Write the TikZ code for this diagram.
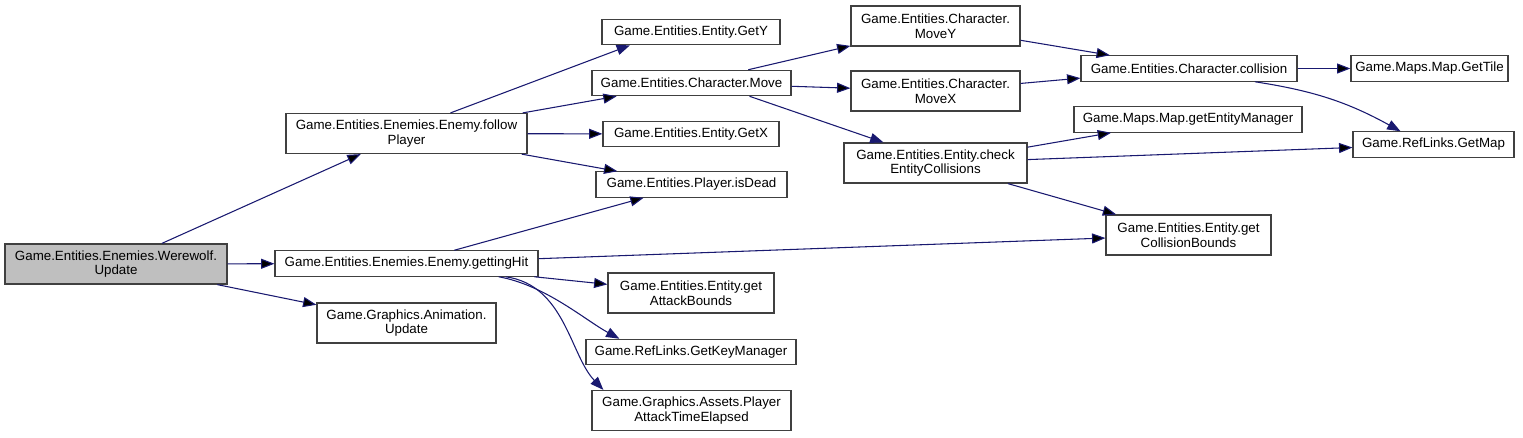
\documentclass[tikz,border=0pt]{standalone}
\usepackage{fontspec}
\setmainfont{Liberation Sans}
\usetikzlibrary{arrows.meta,calc}
\definecolor{edgeblue}{HTML}{191970}
\definecolor{boxgray}{HTML}{404040}
\definecolor{curfill}{HTML}{BFBFBF}

\begin{document}
\begin{tikzpicture}[x=0.75pt,y=-0.75pt,>={Triangle[length=10pt,width=7.5pt]},
  fn/.style={draw=boxgray,line width=0.9pt,fill=white,inner sep=0pt,minimum width=#1*0.75pt,minimum height=19pt,font=\fontsize{10}{11}\selectfont},
  fn2/.style={fn=#1,minimum height=30pt,align=center},
  call/.style={->,draw=edgeblue,line width=0.8pt}]

  \useasboundingbox (0,0) rectangle (1523,437);

  \node[fn2=222,fill=curfill] (ww) at (116,264) {Game.Entities.Enemies.Werewolf.\\Update};

  \node[fn2=241] (fp) at (406.5,133.5) {Game.Entities.Enemies.Enemy.follow\\Player};
  \node[fn=263] (gh) at (406.5,263.5) {Game.Entities.Enemies.Enemy.gettingHit};
  \node[fn2=179] (anim) at (406.5,323) {Game.Graphics.Animation.\\Update};

  \node[fn=178] (gety) at (691,32) {Game.Entities.Entity.GetY};
  \node[fn=199] (move) at (691.5,83) {Game.Entities.Character.Move};
  \node[fn=176] (getx) at (691,134) {Game.Entities.Entity.GetX};
  \node[fn=191] (isdead) at (691.5,184.5) {Game.Entities.Player.isDead};
  \node[fn2=166] (gab) at (691,293) {Game.Entities.Entity.get\\AttackBounds};
  \node[fn=210] (gkm) at (691,352) {Game.RefLinks.GetKeyManager};
  \node[fn2=199] (pate) at (691.5,410.5) {Game.Graphics.Assets.Player\\AttackTimeElapsed};

  \node[fn2=169] (movey) at (935.5,26) {Game.Entities.Character.\\MoveY};
  \node[fn2=169] (movex) at (935.5,91) {Game.Entities.Character.\\MoveX};
  \node[fn2=183] (check) at (935.5,163) {Game.Entities.Entity.check\\EntityCollisions};

  \node[fn=216] (coll) at (1189,68.5) {Game.Entities.Character.collision};
  \node[fn=228] (gem) at (1188,119.5) {Game.Maps.Map.getEntityManager};
  \node[fn2=165] (gcb) at (1188.5,235) {Game.Entities.Entity.get\\CollisionBounds};

  \node[fn=157] (gettile) at (1429.5,68.5) {Game.Maps.Map.GetTile};
  \node[fn=161] (getmap) at (1433.5,144.5) {Game.RefLinks.GetMap};

  \path[call]
    (ww) edge (fp)
         edge (gh)
         edge (anim)
    (fp) edge (move)
         edge (getx)
         edge (isdead)
    (gh) edge (isdead)
         edge (gcb)
         edge (gab)
    (move) edge (movey)
           edge (movex)
    (movey) edge (coll)
    (movex) edge (coll)
    (coll) edge (gettile)
    (check) edge (gem)
            edge (getmap)
            edge (gcb);

  % calls that do not run centre to centre
  \draw[call] ($(fp.north)+(44,0)$) -- ($(gety.south)+(-61,0)$);
  \draw[call] ($(move.south)+(58,0)$) -- ($(check.north)+(-52,0)$);
  \draw[call] ($(coll.south)+(66,0)$) to[bend left=10] ($(getmap.north)+(-33,0)$);
  \draw[call] ($(gh.south east)+(-40,0)$) .. controls (545,285) and (585,320) .. ($(gkm.north west)+(34,0)$);
  \draw[call] ($(gh.south east)+(-33,0)$) .. controls (565,285) and (570,355) .. ($(pate.north west)+(12,0)$);
\end{tikzpicture}
\end{document}
